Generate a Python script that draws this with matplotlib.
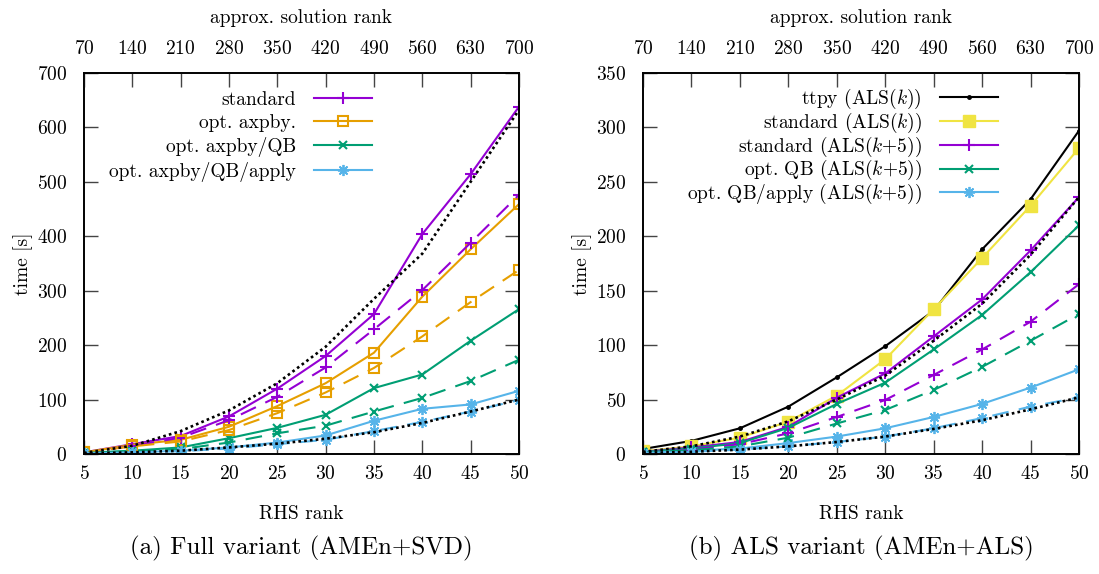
import matplotlib
matplotlib.use("Agg")
import matplotlib.pyplot as plt

plt.rcParams['font.family'] = ['cmr10', 'DejaVu Serif']
plt.rcParams['mathtext.fontset'] = 'cm'
plt.rcParams['axes.formatter.use_mathtext'] = True
plt.rcParams['font.size'] = 14

# x values (RHS rank) and top-axis ticks (approx. solution rank)
rhs_rank = [5, 10, 15, 20, 25, 30, 35, 40, 45, 50]
sol_rank = [70, 140, 210, 280, 350, 420, 490, 560, 630, 700]

# (a) full variant
full_standard = [3, 18, 33, 69, 120, 180, 257, 404, 514, 638]
full_standard_dash = [2, 15, 30, 62, 105, 159, 229, 301, 388, 476]
full_axpby = [3, 17, 26, 50, 88, 130, 186, 289, 376, 459]
full_axpby_dash = [3, 14, 23, 44, 75, 113, 158, 216, 279, 338]
full_qb = [2, 6, 12, 29, 48, 72, 121, 146, 208, 266]
full_qb_dash = [2, 5, 9, 21, 38, 52, 78, 103, 134, 173]
full_apply = [1, 3, 6, 12, 21, 34, 61, 83, 91, 116]
full_apply_dash = [1, 3, 5, 10, 18, 26, 42, 59, 78, 99]
full_ref_hi = [2, 15, 42, 80, 130, 197, 285, 368, 500, 632]
full_ref_lo = [1, 3, 6, 12, 19, 28, 40, 57, 78, 100]

# (b) ALS variant
als_ttpy = [4.6, 12, 23.6, 43.5, 70.4, 99, 131.6, 188, 234, 297]
als_std_k = [2.5, 7, 15, 29.7, 53.6, 87, 133, 180, 228, 281]
als_std_k5 = [2, 6, 11, 25, 51.7, 74, 108, 142, 187, 236]
als_std_k5_dash = [1.5, 4, 9, 19, 34, 49.6, 72.6, 96, 121.5, 156]
als_qb = [2, 5, 10, 24, 46, 65.5, 96, 127.7, 167, 210]
als_qb_dash = [1.5, 3.5, 7, 15, 28, 40.4, 58.8, 80, 104, 128.6]
als_apply = [1, 3, 5, 10, 16, 23.6, 34, 46, 61, 77.8]
als_apply_dash = [1, 2, 4, 7, 11, 16, 23.6, 33, 43.5, 52]
als_ref_hi = [2, 7, 16, 30, 50, 72, 104, 138, 183, 236]
als_ref_lo = [1, 2, 4, 7, 11, 16, 23, 31, 41, 52]

purple = '#9400d3'
orange = '#e69f00'
green = '#009e73'
sky = '#56b4e9'
yellow = '#f0e442'

star = (8, 2, 0)
dash = (0, (8, 5))
dot = (0, (1.0, 1.2))
lw = 1.5

plus_kw = dict(marker='+', ms=8.5, mew=1.5)
box_kw = dict(marker='s', ms=7.5, mfc='none', mew=1.5)
x_kw = dict(marker='x', ms=5.5, mew=1.5)
star_kw = dict(marker=star, ms=8, mew=1.3)

fig = plt.figure(figsize=(10.99, 5.74), dpi=100)
ax1 = fig.add_axes([0.0764, 0.2091, 0.3958, 0.6638])
ax2 = fig.add_axes([0.5851, 0.2091, 0.3967, 0.6638])


def style_axes(ax, ymax, ystep):
    ax.set_xlim(5, 50)
    ax.set_ylim(0, ymax)
    ax.set_xticks(rhs_rank)
    ax.set_yticks(range(0, ymax + 1, ystep))
    ax.tick_params(direction='in', length=10, width=1, color='#444444',
                   top=False, right=True)
    ax.tick_params(axis='y', pad=12)
    ax.tick_params(axis='x', pad=8)
    ax.set_xlabel('RHS rank')
    ax.xaxis.set_label_coords(0.5, -0.135)
    ax.set_ylabel('time [s]')
    ax.yaxis.set_label_coords(-0.117, 0.5)
    top = ax.twiny()
    top.set_xlim(70, 700)
    top.set_xticks(sol_rank)
    top.tick_params(direction='in', length=10, width=1, color='#444444', pad=11)
    top.set_xlabel('approx. solution rank')
    top.xaxis.set_label_coords(0.5, 1.13)
    for a in (ax, top):
        for s in a.spines.values():
            s.set_linewidth(1.2)


def right_legend(ax, x, y, spacing):
    leg = ax.legend(loc='upper right', bbox_to_anchor=(x, y), frameon=False,
                    markerfirst=False, handlelength=3.0, handletextpad=0.9,
                    labelspacing=spacing, borderpad=0, borderaxespad=0)
    for col in leg._legend_handle_box.get_children():
        col.align = 'right'


# (a)
ax1.plot(rhs_rank, full_standard, color=purple, lw=lw, label='standard', **plus_kw)
ax1.plot(rhs_rank, full_axpby, color=orange, lw=lw, label='opt. axpby.', **box_kw)
ax1.plot(rhs_rank, full_qb, color=green, lw=lw, label='opt. axpby/QB', **x_kw)
ax1.plot(rhs_rank, full_apply, color=sky, lw=lw, label='opt. axpby/QB/apply', **star_kw)
ax1.plot(rhs_rank, full_standard_dash, color=purple, lw=lw, ls=dash, **plus_kw)
ax1.plot(rhs_rank, full_axpby_dash, color=orange, lw=lw, ls=dash, **box_kw)
ax1.plot(rhs_rank, full_qb_dash, color=green, lw=lw, ls=dash, **x_kw)
ax1.plot(rhs_rank, full_apply_dash, color=sky, lw=lw, ls=dash, **star_kw)
ax1.plot(rhs_rank, full_ref_hi, color='black', lw=1.9, ls=dot)
ax1.plot(rhs_rank, full_ref_lo, color='black', lw=1.9, ls=dot)
style_axes(ax1, 700, 100)
right_legend(ax1, 0.662, 0.952, 0.25)

# (b)
ax2.plot(rhs_rank, als_ttpy, color='black', lw=lw, marker='o', ms=2.5, label='ttpy (ALS($k$))')
ax2.plot(rhs_rank, als_std_k, color=yellow, lw=lw, marker='s', ms=9, label='standard (ALS($k$))')
ax2.plot(rhs_rank, als_std_k5, color=purple, lw=lw, label='standard (ALS($k$+5))', **plus_kw)
ax2.plot(rhs_rank, als_qb, color=green, lw=lw, label='opt. QB (ALS($k$+5))', **x_kw)
ax2.plot(rhs_rank, als_apply, color=sky, lw=lw, label='opt. QB/apply (ALS($k$+5))', **star_kw)
ax2.plot(rhs_rank, als_std_k5_dash, color=purple, lw=lw, ls=dash, **plus_kw)
ax2.plot(rhs_rank, als_qb_dash, color=green, lw=lw, ls=dash, **x_kw)
ax2.plot(rhs_rank, als_apply_dash, color=sky, lw=lw, ls=dash, **star_kw)
ax2.plot(rhs_rank, als_ref_hi, color='black', lw=1.9, ls=dot)
ax2.plot(rhs_rank, als_ref_lo, color='black', lw=1.9, ls=dot)
style_axes(ax2, 350, 50)
right_legend(ax2, 0.814, 0.963, -0.02)

ax1.text(0.5, -0.215, '(a) Full variant (AMEn+SVD)', transform=ax1.transAxes,
         ha='center', va='top', fontsize=18)
ax2.text(0.5, -0.215, '(b) ALS variant (AMEn+ALS)', transform=ax2.transAxes,
         ha='center', va='top', fontsize=18)

fig.savefig('out.png', dpi=100)
